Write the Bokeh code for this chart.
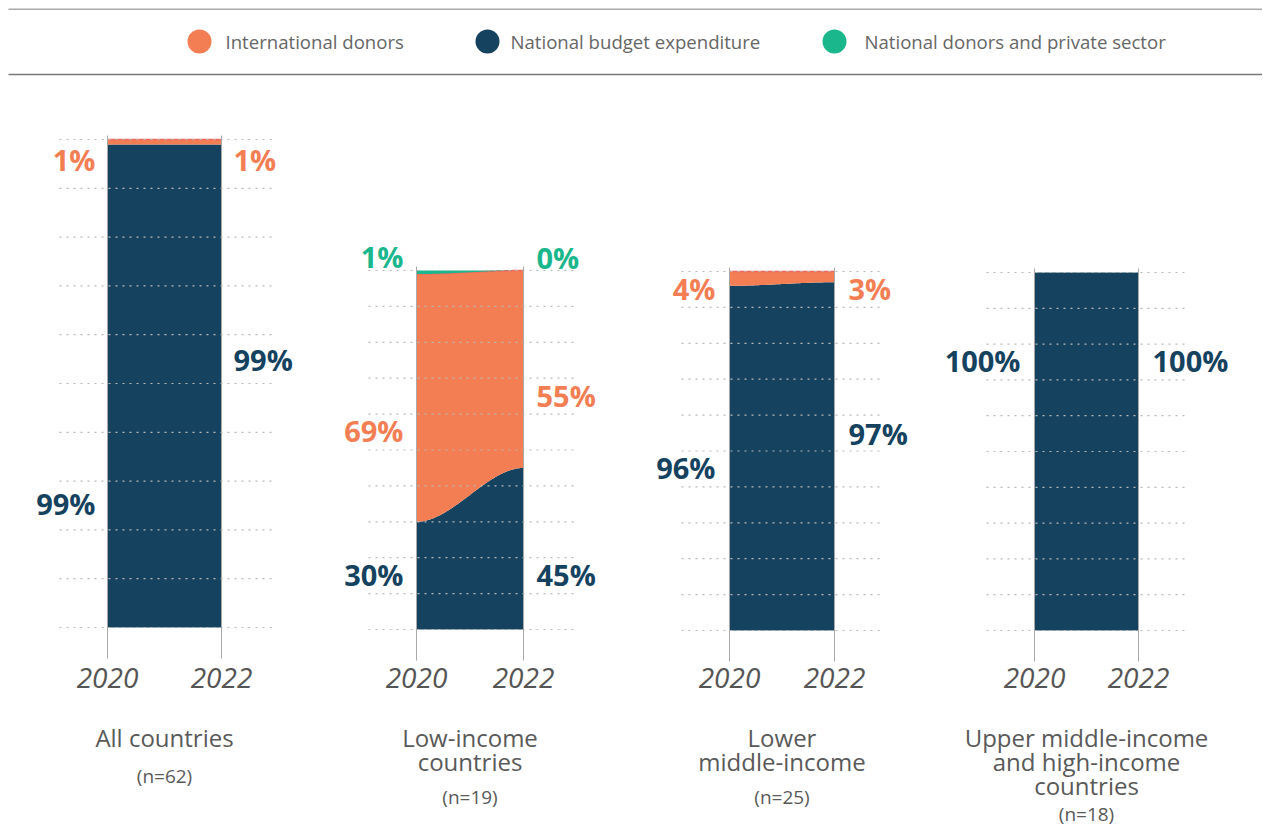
import numpy as np
from bokeh.plotting import figure
from bokeh.models import Range1d
from bokeh.embed import file_html
from bokeh.resources import INLINE
from bokeh.core.properties import value

# ---------------- data ----------------
years = [2020, 2022]
series_names = ["International donors", "National budget expenditure",
                "National donors and private sector"]
panel_titles = [["All countries"], ["Low-income", "countries"],
                ["Lower", "middle-income"],
                ["Upper middle-income", "and high-income", "countries"]]
panel_n = ["(n=62)", "(n=19)", "(n=25)", "(n=18)"]
national_budget = [[99, 99], [30, 45], [96, 97], [100, 100]]
international_donors = [[1, 1], [69, 55], [4, 3], [0, 0]]
national_donors_private = [[0, 0], [1, 0], [0, 0], [0, 0]]

# ---------------- layout / style ----------------
W, H, M = 1262, 829, 0
col_intl = "#F47E53"
col_nat = "#15425F"
col_priv = "#1AB68C"
txt_col = "#595959"
font = value("Open Sans")

# page-pixel geometry of each panel: x of 2020, x of 2022, y of 100 %, y of 0 %
pan_a = [107, 416, 729, 1034]
pan_b = [221, 523, 834, 1138]
pan_top = [139, 270, 271, 272]
pan_bot = [627, 629, 630, 630]
# label positions (in % units) per panel: [national, international, private] x [2020, 2022]
label_pos = [
    [[25.5, 55.0], [96.0, 96.0], [None, None]],
    [[15.4, 15.2], [55.3, 65.3], [104.0, 103.7]],
    [[45.5, 55.0], [95.4, 95.4], [None, None]],
    [[75.3, 75.3], [None, None], [None, None]],
]
label_xoff = [12, 13, 14, 14]
title_centers = [737, 761, 785]
n_centers = [775, 796, 796, 813]
year_center = 677

p = figure(width=W, height=H, x_range=Range1d(0, W), y_range=Range1d(H, 0),
           output_backend="svg", toolbar_location=None,
           x_axis_location=None, y_axis_location=None,
           min_border=0, outline_line_color=None)
p.grid.visible = False
p.background_fill_color = "white"

# ---------------- legend (page pixel coords) ----------------
p.segment(x0=[8], y0=[8.8], x1=[W], y1=[8.8], line_color="#aaaaaa", line_width=1.6)
p.segment(x0=[8], y0=[74], x1=[W], y1=[74], line_color="#777777", line_width=1.6)
leg_cx = [199, 487, 834]
leg_tx = [225, 510, 864]
p.scatter(x=leg_cx, y=[41] * 3, size=24, marker="circle",
          fill_color=[col_intl, col_nat, col_priv], line_color=None)
p.text(x=leg_tx, y=[41] * 3, text=series_names, text_font=font,
       text_font_size="18.6px", text_color="#666666", text_baseline="middle",
       text_align="left")


def smooth(v0, v1, xs):
    t = (xs - years[0]) / (years[1] - years[0])
    s = t * t * (3 - 2 * t)
    return v0 + (v1 - v0) * s


for i in range(4):
    a, b, top, bot = pan_a[i], pan_b[i], pan_top[i], pan_bot[i]
    ppy = (b - a) / (years[1] - years[0])
    x0 = years[0] - (a - M) / ppy
    p.extra_x_ranges[f"x{i}"] = Range1d(x0, x0 + W / ppy)
    ppp = (bot - top) / 100.0
    ye = (bot - M) / ppp
    p.extra_y_ranges[f"y{i}"] = Range1d(ye - H / ppp, ye)
    kw = dict(x_range_name=f"x{i}", y_range_name=f"y{i}")

    xs = np.linspace(years[0], years[1], 80)
    nb = national_budget[i]
    idn = international_donors[i]
    pv = national_donors_private[i]
    l1 = smooth(nb[0], nb[1], xs)
    l2 = smooth(nb[0] + idn[0], nb[1] + idn[1], xs)
    l3 = smooth(nb[0] + idn[0] + pv[0], nb[1] + idn[1] + pv[1], xs)
    zero = np.zeros_like(xs)

    p.varea(x=xs, y1=zero, y2=l1, fill_color=col_nat, **kw)
    if max(idn) > 0:
        p.varea(x=xs, y1=l1, y2=l2, fill_color=col_intl, **kw)
        p.line(x=xs, y=l2, line_color="#EE6A5E", line_width=1.5, **kw)
    if max(pv) > 0:
        p.varea(x=xs, y1=l2, y2=l3, fill_color=col_priv, **kw)

    # dotted gridlines
    grid = list(range(0, 101, 10))
    gl = years[0] - 48 / ppy
    gr = years[1] + 50 / ppy
    p.segment(x0=[gl] * len(grid), y0=grid, x1=[gr] * len(grid), y1=grid,
              line_color="#b9b9b9", line_dash="2 5", line_width=1.2, **kw)

    # vertical year lines
    p.segment(x0=years, y0=[100 + 4 / ppp] * 2, x1=years, y1=[-31 / ppp] * 2,
              line_color="#a9a9a9", line_width=1, **kw)

    # year labels
    p.text(x=years, y=[-(year_center - bot) / ppp] * 2, text=[str(y) for y in years],
           text_font=font, text_font_style="italic", text_font_size="28px",
           text_color="#555555", text_align="center", text_baseline="middle", **kw)

    # titles
    for j, line in enumerate(panel_titles[i]):
        p.text(x=[(years[0] + years[1]) / 2], y=[-(title_centers[j] - bot) / ppp],
               text=[line], text_font=font, text_font_size="24px", text_color=txt_col,
               text_align="center", text_baseline="middle", **kw)
    p.text(x=[(years[0] + years[1]) / 2], y=[-(n_centers[i] - bot) / ppp],
           text=[panel_n[i]], text_font=font, text_font_size="19px", text_color=txt_col,
           text_align="center", text_baseline="middle", **kw)

    # value labels
    series = [(nb, col_nat), (idn, col_intl), (pv, col_priv)]
    for k, (vals, col) in enumerate(series):
        pos = label_pos[i][k]
        if pos[0] is None:
            continue
        p.text(x=[years[0]], y=[pos[0]], text=[f"{vals[0]}%"], text_font=font,
               text_font_style="bold", text_font_size="29px", text_color=col,
               text_align="right", text_baseline="middle", x_offset=-label_xoff[i], **kw)
        p.text(x=[years[1]], y=[pos[1]], text=[f"{vals[1]}%"], text_font=font,
               text_font_style="bold", text_font_size="29px", text_color=col,
               text_align="left", text_baseline="middle", x_offset=label_xoff[i], **kw)

open("out.html", "w").write(file_html(p, INLINE))
